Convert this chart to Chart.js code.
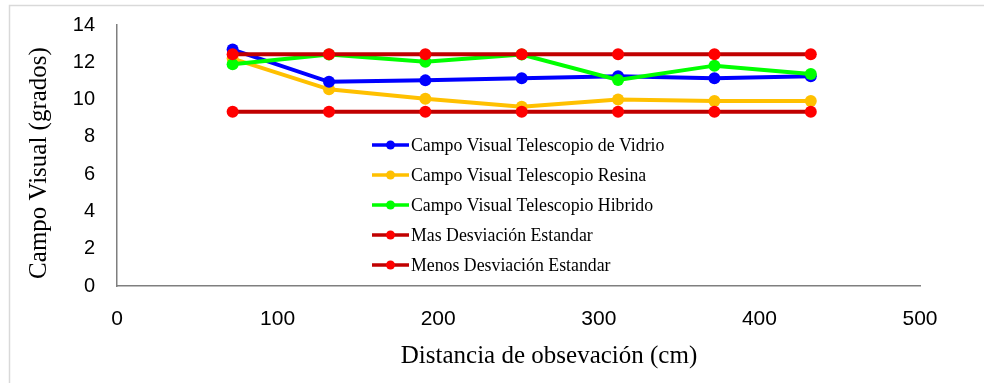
<!DOCTYPE html>
<html>
<head>
<meta charset="utf-8">
<script src="https://cdn.jsdelivr.net/npm/chart.js@4"></script>
<style>
  html, body { margin: 0; padding: 0; background: #ffffff; }
  #wrap { width: 984px; height: 383px; position: relative; }
  canvas { display: block; }
</style>
</head>
<body>
<div id="wrap"><canvas id="c" width="984" height="383"></canvas></div>
<script>
// ---- data ----
const distances = [72, 132, 192, 252, 312, 372, 432];
const vidrio   = [12.68, 10.95, 11.03, 11.14, 11.25, 11.14, 11.25];
const resina   = [12.2, 10.55, 10.05, 9.62, 10.0, 9.92, 9.92];
const hibrido  = [11.9, 12.42, 12.03, 12.42, 11.05, 11.82, 11.37];
const masDesv  = [12.43, 12.43, 12.43, 12.43, 12.43, 12.43, 12.43];
const menosDesv = [9.35, 9.35, 9.35, 9.35, 9.35, 9.35, 9.35];
const seriesLabels = [
  'Campo Visual Telescopio de Vidrio',
  'Campo Visual Telescopio Resina',
  'Campo Visual Telescopio Hibrido',
  'Mas Desviación Estandar',
  'Menos Desviación Estandar'
];
const xTitle = 'Distancia de obsevación (cm)';
const yTitle = 'Campo Visual (grados)';
const xTicks = [0, 100, 200, 300, 400, 500];
const yTicks = [0, 2, 4, 6, 8, 10, 12, 14];

const toPts = (ys) => ys.map((y, i) => ({ x: distances[i], y }));

const SERIF = '"Liberation Serif", "Times New Roman", serif';
const SANS = '"Liberation Sans", Arial, sans-serif';

function ds(label, data, line, point, order) {
  return {
    label, data: toPts(data),
    borderColor: line, backgroundColor: point,
    pointBackgroundColor: point, pointBorderColor: point,
    borderWidth: 4, pointRadius: 6, pointBorderWidth: 0, pointHoverRadius: 6,
    tension: 0, fill: false, order
  };
}

const frame = {
  id: 'frame',
  beforeDraw(chart) {
    const ctx = chart.ctx;
    ctx.save();
    ctx.fillStyle = '#ffffff';
    ctx.fillRect(0, 0, chart.width, chart.height);
    ctx.strokeStyle = '#d9d9d9';
    ctx.lineWidth = 1.5;
    ctx.strokeRect(9.5, 5.5, chart.width + 20, chart.height + 20);
    ctx.restore();
  }
};

const titles = {
  id: 'titles',
  afterDraw(chart) {
    const ctx = chart.ctx;
    ctx.save();
    ctx.fillStyle = '#000000';
    ctx.font = '25px ' + SERIF;
    ctx.textAlign = 'center';
    ctx.textBaseline = 'alphabetic';
    ctx.fillText(xTitle, 549, 363);
    ctx.translate(46, 163);
    ctx.rotate(-Math.PI / 2);
    ctx.fillText(yTitle, 0, 0);
    ctx.restore();
  }
};

const legendBox = {
  id: 'legendBox',
  afterDraw(chart) {
    const ctx = chart.ctx;
    ctx.save();
    ctx.font = '17.8px ' + SERIF;
    ctx.textBaseline = 'middle';
    ctx.textAlign = 'left';
    chart.data.datasets.forEach((d, i) => {
      const y = 145 + i * 30;
      ctx.strokeStyle = d.borderColor;
      ctx.lineWidth = 3.5;
      ctx.beginPath();
      ctx.moveTo(372, y);
      ctx.lineTo(409, y);
      ctx.stroke();
      ctx.fillStyle = d.pointBackgroundColor;
      ctx.beginPath();
      ctx.arc(390.5, y, 4.5, 0, Math.PI * 2);
      ctx.fill();
      ctx.fillStyle = '#000000';
      ctx.fillText(d.label, 411, y + 1);
    });
    ctx.restore();
  }
};

new Chart(document.getElementById('c'), {
  type: 'line',
  data: {
    datasets: [
      ds(seriesLabels[0], vidrio, '#0000FF', '#0000FF', 2),
      ds(seriesLabels[1], resina, '#FFC000', '#FFC000', 3),
      ds(seriesLabels[2], hibrido, '#00FF00', '#00FF00', 1),
      ds(seriesLabels[3], masDesv, '#C00000', '#FF0000', 0),
      ds(seriesLabels[4], menosDesv, '#C00000', '#FF0000', 0)
    ]
  },
  options: {
    responsive: false,
    animation: false,
    events: [],
    layout: { padding: { left: 0, right: 64, top: 25, bottom: 0 } },
    plugins: { legend: { display: false }, tooltip: { enabled: false }, title: { display: false } },
    scales: {
      x: {
        type: 'linear', min: 0, max: 500,
        afterBuildTicks(s) { s.ticks = xTicks.map(v => ({ value: v })); },
        afterFit(s) { s.height = 97; s.paddingLeft = 0; s.paddingRight = 0; },
        grid: { display: false, drawTicks: false },
        border: { display: true, color: '#7f7f7f', width: 1.5 },
        ticks: { color: '#000000', font: { family: SANS, size: 21 }, padding: 21, maxRotation: 0 }
      },
      y: {
        type: 'linear', min: 0, max: 14,
        afterBuildTicks(s) { s.ticks = yTicks.map(v => ({ value: v })); },
        afterFit(s) { s.width = 117; s.paddingTop = 0; s.paddingBottom = 0; },
        grid: { display: false, drawTicks: false },
        border: { display: true, color: '#7f7f7f', width: 1.5 },
        ticks: { color: '#000000', font: { family: SANS, size: 20 }, padding: 22 }
      }
    }
  },
  plugins: [frame, titles, legendBox]
});
</script>
</body>
</html>
